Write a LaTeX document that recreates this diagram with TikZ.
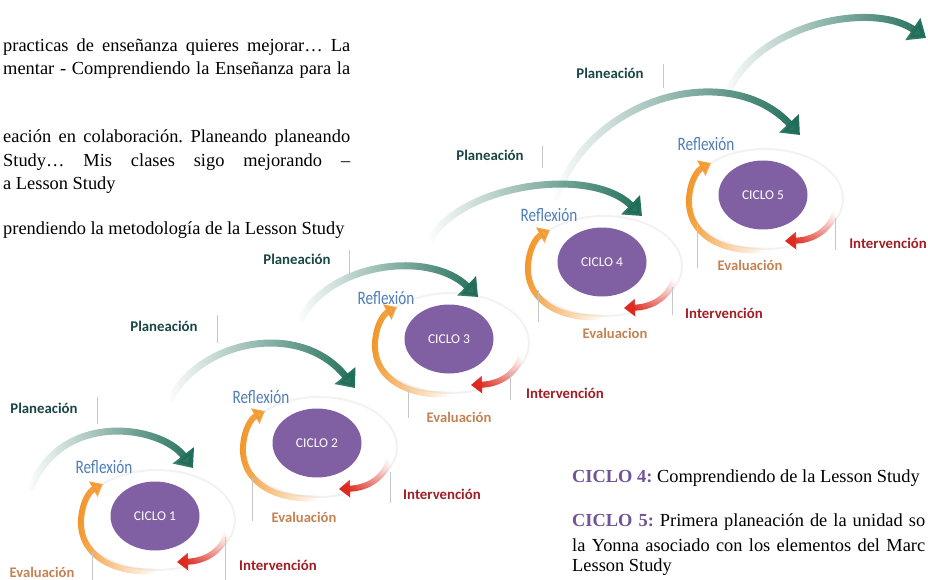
\documentclass[tikz,border=0pt]{standalone}
\usepackage{fontspec}
\setmainfont{Liberation Serif}
\newfontfamily\carlito{Carlito}
\newfontfamily\carlitoangosta[FakeStretch=0.8]{Carlito}
\usetikzlibrary{arrows.meta, positioning, shapes.geometric, fadings}
\frenchspacing

\definecolor{morado}{RGB}{128,96,162}
\definecolor{verde}{RGB}{30,108,88}
\definecolor{naranja}{RGB}{242,150,42}
\definecolor{rojo}{RGB}{222,42,30}
\definecolor{azul}{RGB}{79,125,185}
\definecolor{cafe}{RGB}{196,130,82}
\definecolor{vino}{RGB}{160,30,36}
\definecolor{pino}{RGB}{26,70,70}
\definecolor{lila}{RGB}{112,84,150}

\tikzfading[name=aparece, left color=transparent!100, right color=transparent!0]
\tikzfading[name=aparecerapido, left color=transparent!100, middle color=transparent!0, right color=transparent!0]

\begin{document}
\begin{tikzpicture}[x=1pt, y=-1pt,
    ciclo/.style={ellipse, fill=morado, minimum width=89pt, minimum height=69pt, inner sep=0pt,
      text=white, font=\carlito\fontsize{13.5}{15}\selectfont},
    texto/.style={anchor=west, inner sep=0pt, font=\fontsize{18.4}{22}\selectfont},
    planea/.style={inner sep=0pt, text=pino, font=\carlito\bfseries\fontsize{14.8}{16}\selectfont},
    refl/.style={inner sep=0pt, text=azul, font=\carlitoangosta\fontsize{19}{20}\selectfont},
    evalua/.style={inner sep=0pt, text=cafe, font=\carlito\bfseries\fontsize{14.6}{16}\selectfont},
    interv/.style={inner sep=0pt, text=vino, font=\carlito\bfseries\fontsize{14.8}{16}\selectfont},
    marca/.style={draw=gray!45, line width=0.8pt},
    halo/.style={draw=gray!10, line width=2pt},
    avance/.style={verde, line width=7pt, -{Triangle[width=26pt, length=16pt]}, path fading=aparece},
    giro/.style={naranja, line width=6pt, -{Triangle[width=17pt, length=11pt]}, path fading=aparecerapido, fading angle=170},
    retorno/.style={rojo, line width=6pt, -{Triangle[width=17pt, length=11pt]}, path fading=aparecerapido, fading angle=215}]

    \useasboundingbox (0,0) rectangle (928,580);

    % Halos
    \foreach \cx/\cy in {155/516, 317/443, 449/339, 602/262, 763/195}
      \draw[halo] (\cx+2,\cy+4) ellipse (78 and 50);

    % Planning arrows
    \draw[avance] (30,490) .. controls (60,410) and (160,425) .. (193,468);
    \draw[avance] (170,400) .. controls (200,340) and (300,320) .. (355,388);
    \draw[avance] (300,320) .. controls (330,262) and (430,250) .. (478,297);
    \draw[avance] (430,240) .. controls (460,185) and (590,165) .. (642,216);
    \draw[avance] (555,200) .. controls (590,95) and (730,60) .. (800,135);
    \draw[avance] (725,100) .. controls (750,25) and (870,0) .. (926,38);

    % Cycles
    \foreach \n/\cx/\cy in {1/155/516, 2/317/443, 3/449/339, 4/602/262, 5/763/195} {
      \draw[giro] (\cx+5,\cy+54) .. controls (\cx-30,\cy+60) and (\cx-75,\cy+45) .. (\cx-74,\cy+5)
        .. controls (\cx-73,\cy-15) and (\cx-65,\cy-25) .. (\cx-52,\cy-32);
      \draw[retorno] (\cx+73,\cy+10) .. controls (\cx+72,\cy+30) and (\cx+55,\cy+45) .. (\cx+22,\cy+46);
      \node[ciclo] (c\n) at (\cx,\cy) {CICLO \n};
    }

    % Tick lines
    \foreach \tx/\ta/\tb in {97/397/424, 217/315/343, 349/250/274, 542/146/168, 663/64/88,
        92/552/580, 252/478/521, 408/390/418, 538/290/322, 697/224/268,
        225/537/580, 390/472/503, 510/374/400, 672/287/315, 835/218/250}
      \draw[marca] (\tx,\ta) -- (\tx,\tb);

    % Labels
    \node[planea] (p1) at (44,408) {Planeación};
    \node[planea] (p2) at (164,326) {Planeación};
    \node[planea] (p3) at (297,259) {Planeación};
    \node[planea] (p4) at (490,155) {Planeación};
    \node[planea] (p5) at (610,73) {Planeación};
    \node[refl] (r1) at (104,467) {Reflexión};
    \node[refl] (r2) at (261,397) {Reflexión};
    \node[refl] (r3) at (386,298) {Reflexión};
    \node[refl] (r4) at (549,215) {Reflexión};
    \node[refl] (r5) at (706,144) {Reflexión};
    \node[evalua] (e1) at (42,572) {Evaluación};
    \node[evalua] (e2) at (304,517) {Evaluación};
    \node[evalua] (e3) at (459,417) {Evaluación};
    \node[evalua] (e4) at (615,333) {Evaluacion};
    \node[evalua] (e5) at (750,265) {Evaluación};
    \node[interv] (i1) at (278,565) {Intervención};
    \node[interv] (i2) at (442,494) {Intervención};
    \node[interv] (i3) at (565,393) {Intervención};
    \node[interv] (i4) at (724,313) {Intervención};
    \node[interv] (i5) at (888,243) {Intervención};

    % Text
    \node[texto] (t1) at (3,47) {\makebox[347pt][s]{practicas de enseñanza quieres mejorar… La}};
    \node[texto] (t2) at (3,70) {\makebox[347pt][s]{mentar - Comprendiendo la Enseñanza para la}};
    \node[texto] (t3) at (3,138) {\makebox[347pt][s]{eación en colaboración. Planeando planeando}};
    \node[texto] (t4) at (3,162) {\makebox[347pt][s]{Study… Mis clases sigo mejorando –}};
    \node[texto] (t5) at (3,185) {a Lesson Study};
    \node[texto] (t6) at (3,230) {prendiendo la metodología de la Lesson Study};
    \node[texto] (t7) at (572,478) {\textcolor{lila}{\textbf{CICLO 4:}} Comprendiendo de la Lesson Study};
    \node[texto] (t8) at (572,522) {\makebox[353pt][s]{\textcolor{lila}{\textbf{CICLO 5:}} Primera planeación de la unidad so}};
    \node[texto] (t9) at (572,545) {\makebox[353pt][s]{la Yonna asociado con los elementos del Marc}};
    \node[texto] (t10) at (572,567) {Lesson Study};

\end{tikzpicture}
\end{document}
